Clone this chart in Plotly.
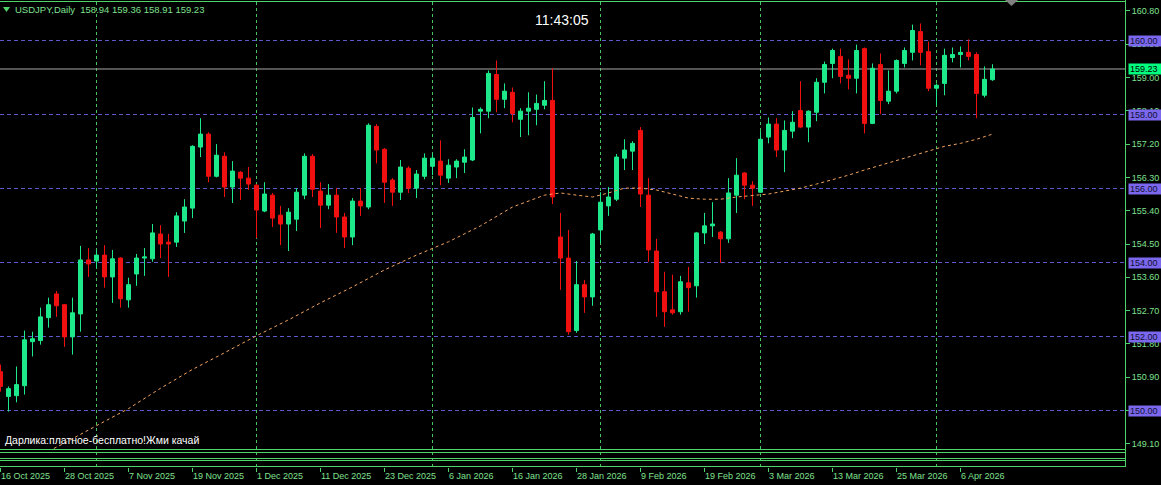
import plotly.graph_objects as go
import pandas as pd

# ---------------- data ----------------
SYMBOL = "USDJPY,Daily"
CLOCK = "11:43:05"
FOOTER = "Дарлика:платное-бесплатно!Жми качай"

FIRST_DAY = "2025-10-16"
LAST_DAY = "2026-04-10"
HOLIDAYS = ["2025-12-25", "2026-01-01"]

OPEN = [151.05, 150.38, 150.40, 150.67, 151.86, 151.89, 152.51, 153.15, 152.86, 151.99,
        152.61, 154.07, 154.04, 154.20, 153.61, 154.12, 152.99, 153.69, 154.12, 154.10,
        154.77, 154.55, 154.55, 155.12, 155.47, 157.12, 157.47, 156.33, 156.87, 156.04,
        156.44, 156.28, 156.09, 155.39, 155.82, 155.28, 155.04, 155.17, 155.82, 156.87,
        155.93, 155.55, 155.82, 155.23, 154.69, 155.66, 155.50, 157.68, 157.06, 156.23,
        155.90, 156.55, 156.01, 156.33, 156.60, 156.74, 156.28, 156.58, 156.71, 156.77,
        158.09, 158.09, 159.08, 158.41, 158.60, 157.87, 158.09, 158.14, 158.25, 158.38,
        154.69, 154.12, 152.16, 153.40, 153.07, 154.88, 155.53, 155.71, 156.82, 157.01,
        157.57, 155.82, 154.31, 153.21, 152.72, 152.67, 153.45, 153.37, 154.80, 154.99,
        154.82, 154.64, 155.82, 156.42, 156.09, 155.90, 157.39, 157.74, 157.04, 157.55,
        158.11, 157.66, 158.06, 158.87, 159.38, 159.57, 159.06, 158.98, 159.78, 157.76,
        159.35, 158.36, 158.63, 159.38, 159.68, 160.24, 159.70, 158.71, 158.84, 159.54,
        159.62, 159.68, 159.62, 158.52, 158.94]

HIGH = [151.24, 150.65, 151.19, 152.16, 152.13, 152.78, 153.05, 153.23, 152.88, 153.05,
        154.45, 154.39, 154.34, 154.47, 154.34, 154.14, 153.59, 154.23, 154.39, 155.04,
        155.01, 154.77, 155.36, 155.71, 157.17, 157.90, 157.52, 157.20, 156.98, 156.74,
        156.47, 156.58, 156.12, 156.17, 155.88, 155.53, 155.47, 156.01, 156.95, 156.93,
        156.17, 156.12, 156.01, 155.34, 155.74, 156.01, 157.76, 157.74, 157.09, 156.28,
        156.77, 156.60, 156.50, 156.95, 156.95, 157.30, 156.79, 156.79, 157.06, 158.19,
        158.19, 159.19, 159.46, 158.84, 158.73, 158.17, 158.60, 158.54, 158.90, 159.25,
        155.34, 154.88, 154.04, 153.53, 154.80, 155.90, 156.04, 156.93, 157.33, 157.28,
        157.66, 156.28, 154.64, 153.75, 153.67, 153.64, 153.88, 154.82, 155.34, 155.63,
        154.85, 156.28, 156.82, 156.44, 156.20, 157.55, 157.92, 157.90, 157.84, 158.09,
        158.90, 158.11, 158.98, 159.43, 159.78, 159.78, 159.49, 159.89, 159.81, 159.38,
        159.65, 159.19, 159.49, 159.81, 160.43, 160.46, 159.97, 158.84, 159.78, 159.81,
        159.84, 160.03, 159.68, 159.30, 159.36]

LOW = [150.51, 149.97, 150.22, 150.43, 151.46, 151.78, 152.24, 152.53, 151.72, 151.51,
       152.13, 153.61, 153.85, 153.32, 152.91, 152.78, 152.78, 153.37, 153.64, 154.02,
       154.12, 153.61, 154.42, 154.80, 155.20, 156.85, 156.17, 156.30, 155.77, 155.61,
       155.69, 155.96, 154.66, 155.36, 154.96, 154.47, 154.31, 154.85, 155.71, 155.77,
       154.93, 155.44, 154.80, 154.39, 154.47, 155.26, 155.44, 156.68, 155.61, 155.53,
       155.69, 155.88, 155.74, 156.25, 156.36, 156.09, 156.15, 156.28, 156.42, 156.74,
       157.49, 157.90, 158.06, 158.17, 157.79, 157.39, 157.44, 157.71, 158.14, 155.58,
       153.26, 152.05, 152.10, 152.64, 152.83, 154.53, 155.26, 155.66, 156.50, 156.50,
       155.50, 154.02, 152.53, 152.26, 152.59, 152.59, 152.67, 153.05, 154.50, 154.69,
       153.99, 154.53, 155.34, 155.71, 155.53, 155.88, 157.22, 156.85, 156.44, 157.36,
       157.63, 157.25, 157.82, 158.57, 158.98, 158.84, 158.68, 158.57, 157.49, 157.74,
       158.01, 158.28, 158.57, 159.27, 159.46, 159.33, 158.63, 158.25, 158.52, 159.41,
       159.27, 159.46, 157.90, 158.46, 158.91]

CLOSE = [150.65, 150.59, 150.70, 151.91, 151.94, 152.53, 152.86, 152.83, 151.99, 152.64,
         154.07, 153.96, 154.20, 153.61, 154.10, 153.02, 153.40, 154.12, 154.15, 154.80,
         154.50, 154.50, 155.26, 155.50, 157.14, 157.47, 156.33, 156.90, 156.04, 156.47,
         156.28, 156.12, 155.42, 155.85, 155.20, 155.04, 155.36, 155.90, 156.87, 155.98,
         155.55, 155.82, 155.23, 154.69, 155.66, 155.53, 157.71, 157.04, 156.17, 155.90,
         156.58, 156.01, 156.39, 156.82, 156.82, 156.36, 156.63, 156.74, 156.85, 157.92,
         158.14, 159.11, 158.41, 158.63, 158.03, 158.09, 158.17, 158.30, 158.38, 155.77,
         154.12, 152.13, 153.40, 153.07, 154.77, 155.63, 155.77, 156.85, 157.04, 157.22,
         155.85, 154.34, 153.21, 152.67, 152.64, 153.48, 153.32, 154.80, 154.99, 155.04,
         154.64, 155.88, 156.36, 156.09, 156.01, 157.33, 157.74, 157.04, 157.57, 157.79,
         157.66, 158.09, 158.87, 159.35, 159.73, 159.03, 158.98, 159.73, 157.76, 159.25,
         158.38, 158.63, 159.46, 159.73, 160.27, 159.68, 158.71, 158.79, 159.60, 159.62,
         159.68, 159.57, 158.57, 158.95, 159.23]

# moving average (bar index -> value)
MA_BARS = [6, 8, 12, 16, 20, 24, 28, 32, 36, 40, 44, 48, 52, 56, 60, 64, 68, 70, 72, 74,
           76, 78, 80, 82, 84, 86, 88, 90, 92, 94, 96, 98, 100, 102, 104, 106, 108, 110,
           112, 114, 116, 118, 120, 122, 124]
MA_VALUES = [148.90, 149.12, 149.59, 150.05, 150.60, 151.11, 151.56, 152.02, 152.45, 152.91,
             153.34, 153.80, 154.20, 154.56, 154.99, 155.50, 155.82, 155.88, 155.82, 155.77,
             155.88, 156.01, 156.01, 155.96, 155.85, 155.74, 155.71, 155.71, 155.77, 155.80,
             155.85, 155.93, 156.01, 156.12, 156.23, 156.36, 156.50, 156.63, 156.77, 156.90,
             157.01, 157.14, 157.22, 157.33, 157.47]

LEVELS = [160.00, 158.00, 156.00, 154.00, 152.00, 150.00]
Y_TICKS = [160.80, 159.90, 159.00, 158.10, 157.20, 156.30, 155.40, 154.50,
           153.60, 152.70, 151.80, 150.90, 150.00, 149.10]
TICK_STEP = 8

# ---------------- derived ----------------
dates = [d for d in pd.bdate_range(FIRST_DAY, LAST_DAY) if d.strftime("%Y-%m-%d") not in HOLIDAYS]
bars = list(range(len(dates)))
tick_bars = bars[::TICK_STEP]
tick_text = [f"{dates[i].day} {dates[i]:%b %Y}" for i in tick_bars]
month_bars = [i for i in bars[1:] if dates[i].month != dates[i - 1].month]
last_price = CLOSE[-1]

# ---------------- style ----------------
W, H = 1161, 485
PL, PR, PT, PB = 0, 1125, 1, 467          # plot area in pixels
FONT = "Liberation Sans"
BG = "#000000"
FRAME = "#4fd46a"
GRID = "#46c45e"
TXT = "#7fe08f"
BULL = "#1de98b"
BEAR = "#f01010"
LEVEL_LINE = "#5e58c8"
LEVEL_BOX = "#7b68ee"
PRICE_LINE = "#a8a8a8"
PRICE_BOX = "#00ff7f"
MA_COLOR = "#f4a460"


def px(x):
    return (x - PL) / (PR - PL)


def py(y):
    return (PB - y) / (PB - PT)


# price scale: 37.0 px per yen, 160.00 at y=40.5
PPU = 37.0
Y_REF, P_REF = 40.5, 160.0
MAIN_TOP, MAIN_BOT = 1, 449
y_range = [P_REF - (MAIN_BOT - Y_REF) / PPU, P_REF + (Y_REF - MAIN_TOP) / PPU]
x_range = [-0.0625, (PR - PL) / 8 - 0.0625]

fig = go.Figure()

fig.add_trace(go.Candlestick(
    x=bars, open=OPEN, high=HIGH, low=LOW, close=CLOSE,
    increasing=dict(line=dict(color=BULL, width=1), fillcolor=BULL),
    decreasing=dict(line=dict(color=BEAR, width=1), fillcolor=BEAR),
    whiskerwidth=0, hoverinfo="skip",
))
fig.add_trace(go.Scatter(
    x=MA_BARS, y=MA_VALUES, mode="lines",
    line=dict(color=MA_COLOR, width=1, dash="dot"), hoverinfo="skip",
))

shapes = []
# month grid
for b in month_bars:
    shapes.append(dict(type="line", xref="x", yref="paper", x0=b, x1=b, y0=0, y1=1,
                       line=dict(color=GRID, width=1, dash="3px,3px"), layer="below"))
# level lines
for lv in LEVELS:
    shapes.append(dict(type="line", xref="paper", yref="y", x0=0, x1=1, y0=lv, y1=lv,
                       line=dict(color=LEVEL_LINE, width=1, dash="4px,3px"), layer="below"))
# last price line
shapes.append(dict(type="line", xref="paper", yref="y", x0=0, x1=1, y0=last_price, y1=last_price,
                   line=dict(color=PRICE_LINE, width=1), layer="below"))
# frames
for yy in [1.5, 449.5, 452.5, 458.5, 460.5, 466.5]:
    shapes.append(dict(type="line", xref="paper", yref="paper", x0=0, x1=px(1125.5),
                       y0=py(yy), y1=py(yy), line=dict(color=FRAME, width=1)))
shapes.append(dict(type="line", xref="paper", yref="paper", x0=px(1125.5), x1=px(1125.5),
                   y0=py(467), y1=py(0), line=dict(color=FRAME, width=1)))
# title triangle
shapes.append(dict(type="path", xref="paper", yref="paper",
                   path=f"M {px(3)} {py(7)} L {px(10)} {py(7)} L {px(6.5)} {py(12)} Z",
                   fillcolor=FRAME, line=dict(width=0)))
# chart-shift marker
shapes.append(dict(type="path", xref="paper", yref="paper",
                   path=f"M {px(1005)} {py(0)} L {px(1018)} {py(0)} L {px(1011.5)} {py(6)} Z",
                   fillcolor="#808080", line=dict(width=0)))

NB = "\u00a0"
annotations = [
    dict(xref="paper", yref="paper", x=px(13), y=py(10), xanchor="left", yanchor="middle",
         text=f"{SYMBOL}{NB}{NB}{OPEN[-1]:.2f}{NB}{HIGH[-1]:.2f}{NB}{LOW[-1]:.2f}{NB}{CLOSE[-1]:.2f}",
         showarrow=False, font=dict(family=FONT, size=9.5, color=TXT)),
    dict(xref="paper", yref="paper", x=px(562), y=py(20), xanchor="center", yanchor="middle",
         text=CLOCK, showarrow=False, font=dict(family=FONT, size=14, color="#ffffff")),
    dict(xref="paper", yref="paper", x=px(3), y=py(440), xanchor="left", yanchor="middle",
         text=FOOTER, showarrow=False, font=dict(family=FONT, size=10.5, color="#ffffff")),
]
for lv in LEVELS:
    annotations.append(dict(xref="paper", yref="y", x=px(1128), y=lv, xanchor="left", yanchor="middle",
                            text=f"{lv:.2f}", showarrow=False, bgcolor=LEVEL_BOX, borderpad=1,
                            width=30, height=8, align="left",
                            font=dict(family=FONT, size=9, color="#101030")))
annotations.append(dict(xref="paper", yref="y", x=px(1128), y=last_price, xanchor="left", yanchor="middle",
                        text=f"{last_price:.2f}", showarrow=False, bgcolor=PRICE_BOX, borderpad=1,
                        width=30, height=8, align="left",
                        font=dict(family=FONT, size=9, color="#000000")))

fig.update_layout(
    width=W, height=H,
    margin=dict(l=PL, r=W - PR, t=PT, b=H - PB, pad=0),
    paper_bgcolor=BG, plot_bgcolor=BG,
    showlegend=False, hovermode=False,
    boxgap=0.5, boxgroupgap=0,
    shapes=shapes, annotations=annotations,
    xaxis=dict(range=x_range, anchor="free", position=0, showgrid=False, zeroline=False,
               showline=False, rangeslider=dict(visible=False),
               tickmode="array", tickvals=tick_bars, ticktext=tick_text,
               ticks="outside", ticklen=4, tickwidth=1, tickcolor=FRAME,
               ticklabelposition="outside right",
               tickfont=dict(family=FONT, size=9, color=TXT)),
    yaxis=dict(domain=[py(MAIN_BOT), 1], range=y_range, side="right", showgrid=False,
               zeroline=False, showline=False, tickmode="array", tickvals=Y_TICKS,
               ticktext=[f"{v:.2f}" for v in Y_TICKS], ticks="outside", ticklen=4,
               tickwidth=1, tickcolor=FRAME, tickfont=dict(family=FONT, size=9, color=TXT)),
)

fig.write_html("out.html", config={"displayModeBar": False},
               post_script="document.body.style.margin='0';")
